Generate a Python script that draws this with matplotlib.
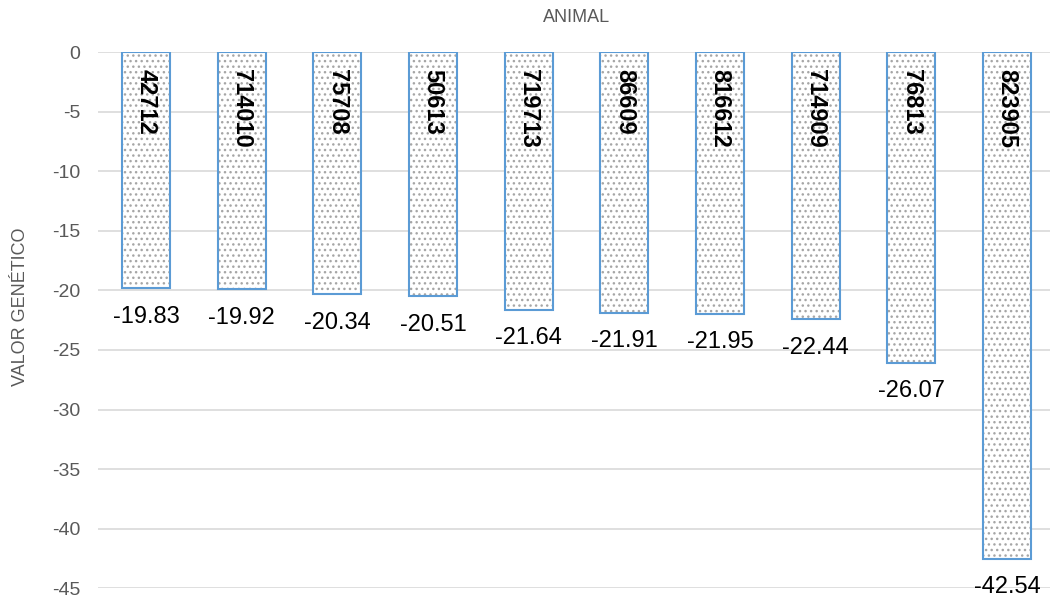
import numpy as np
import matplotlib.pyplot as plt

plt.rcParams['font.family'] = ['Liberation Sans', 'DejaVu Sans']
plt.rcParams['hatch.linewidth'] = 1.0

# animal ids and breeding values
animales = ['42712', '714010', '75708', '50613', '719713',
            '86609', '816612', '714909', '76813', '823905']
valores = [-19.83, -19.92, -20.34, -20.51, -21.64,
           -21.91, -21.95, -22.44, -26.07, -42.54]
yticks = [0, -5, -10, -15, -20, -25, -30, -35, -40, -45]

gris = '#595959'
azul = '#5B9BD5'

fig = plt.figure(figsize=(10.5, 5.99), dpi=100)
ax = fig.add_axes([0.0935, 0.018, 0.911, 0.895])

x = np.arange(len(animales))
# dotted fill first, then blue outline on top
ax.bar(x, valores, width=0.5, color='white', edgecolor='#a6a6a6',
       hatch='...', linewidth=0, zorder=2)
ax.bar(x, valores, width=0.5, color='none', edgecolor=azul,
       linewidth=1.5, zorder=3)

for xi, v, nombre in zip(x, valores, animales):
    ax.text(xi, -1.4, nombre, rotation=270, ha='center', va='top',
            fontsize=17, fontweight='bold', color='black', zorder=4)
    ax.text(xi, v - 1.45, f'{v:.2f}', ha='center', va='top',
            fontsize=17, color='black', zorder=4)

ax.set_xlim(-0.5, len(animales) - 0.5)
ax.set_ylim(-45, 0)
ax.set_yticks(yticks)
ax.set_yticklabels([str(t) for t in yticks])
ax.set_xticks([])
ax.tick_params(axis='y', length=0, labelsize=14, labelcolor=gris, pad=13)
ax.grid(axis='y', color='#d9d9d9', linewidth=1.2, zorder=0)
ax.set_axisbelow(True)
for s in ax.spines.values():
    s.set_visible(False)

ax.set_ylabel('VALOR GENÉTICO', fontsize=13, color=gris)
ax.yaxis.set_label_coords(-0.072, 0.525)
ax.set_title('ANIMAL', fontsize=13, color=gris, pad=22)

fig.savefig('out.png', dpi=100)
